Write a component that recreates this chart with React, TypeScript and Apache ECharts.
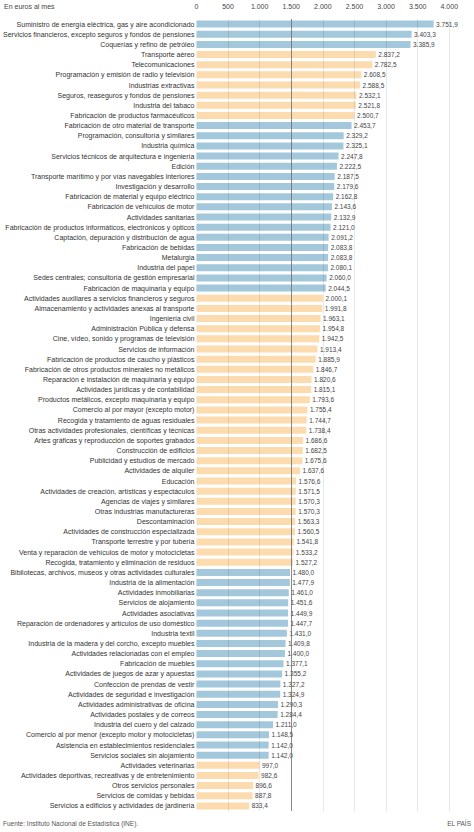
import React, { useEffect, useRef } from "react";
import * as echarts from "echarts";

const categories = [
  "Suministro de energía eléctrica, gas y aire acondicionado",
  "Servicios financieros, excepto seguros y fondos de pensiones",
  "Coquerías y refino de petróleo",
  "Transporte aéreo",
  "Telecomunicaciones",
  "Programación y emisión de radio y televisión",
  "Industrias extractivas",
  "Seguros, reaseguros y fondos de pensiones",
  "Industria del tabaco",
  "Fabricación de productos farmacéuticos",
  "Fabricación de otro material de transporte",
  "Programación, consultoría y similares",
  "Industria química",
  "Servicios técnicos de arquitectura e ingeniería",
  "Edición",
  "Transporte marítimo y por vías navegables interiores",
  "Investigación y desarrollo",
  "Fabricación de material y equipo eléctrico",
  "Fabricación de vehículos de motor",
  "Actividades sanitarias",
  "Fabricación de productos informáticos, electrónicos y ópticos",
  "Captación, depuración y distribución de agua",
  "Fabricación de bebidas",
  "Metalurgia",
  "Industria del papel",
  "Sedes centrales; consultoría de gestión empresarial",
  "Fabricación de maquinaria y equipo",
  "Actividades auxiliares a servicios financieros y seguros",
  "Almacenamiento y actividades anexas al transporte",
  "Ingeniería civil",
  "Administración Pública y defensa",
  "Cine, vídeo, sonido y programas de televisión",
  "Servicios de información",
  "Fabricación de productos de caucho y plásticos",
  "Fabricación de otros productos minerales no metálicos",
  "Reparación e instalación de maquinaria y equipo",
  "Actividades jurídicas y de contabilidad",
  "Productos metálicos, excepto maquinaria y equipo",
  "Comercio al por mayor (excepto motor)",
  "Recogida y tratamiento de aguas residuales",
  "Otras actividades profesionales, científicas y técnicas",
  "Artes gráficas y reproducción de soportes grabados",
  "Construcción de edificios",
  "Publicidad y estudios de mercado",
  "Actividades de alquiler",
  "Educación",
  "Actividades de creación, artísticas y espectáculos",
  "Agencias de viajes y similares",
  "Otras industrias manufactureras",
  "Descontaminación",
  "Actividades de construcción especializada",
  "Transporte terrestre y por tubería",
  "Venta y reparación de vehículos de motor y motocicletas",
  "Recogida, tratamiento y eliminación de residuos",
  "Bibliotecas, archivos, museos y otras actividades culturales",
  "Industria de la alimentación",
  "Actividades inmobiliarias",
  "Servicios de alojamiento",
  "Actividades asociativas",
  "Reparación de ordenadores y artículos de uso doméstico",
  "Industria textil",
  "Industria de la madera y del corcho, excepto muebles",
  "Actividades relacionadas con el empleo",
  "Fabricación de muebles",
  "Actividades de juegos de azar y apuestas",
  "Confección de prendas de vestir",
  "Actividades de seguridad e investigación",
  "Actividades administrativas de oficina",
  "Actividades postales y de correos",
  "Industria del cuero y del calzado",
  "Comercio al por menor (excepto motor y motocicletas)",
  "Asistencia en establecimientos residenciales",
  "Servicios sociales sin alojamiento",
  "Actividades veterinarias",
  "Actividades deportivas, recreativas y de entretenimiento",
  "Otros servicios personales",
  "Servicios de comidas y bebidas",
  "Servicios a edificios y actividades de jardinería",
];

const values = [
  3751.9, 3403.3, 3385.9, 2837.2, 2782.5, 2608.5, 2588.5, 2532.1, 2521.8, 2500.7,
  2453.7, 2329.2, 2325.1, 2247.8, 2222.5, 2187.5, 2179.6, 2162.8, 2143.6, 2132.9,
  2121.0, 2091.2, 2083.8, 2083.8, 2080.1, 2060.0, 2044.5, 2000.1, 1991.8, 1963.1,
  1954.8, 1942.5, 1913.4, 1885.9, 1846.7, 1820.6, 1815.1, 1793.6, 1755.4, 1744.7,
  1738.4, 1686.6, 1682.5, 1675.6, 1637.6, 1576.6, 1571.5, 1570.3, 1570.3, 1563.3,
  1560.5, 1541.8, 1533.2, 1527.2, 1480.0, 1477.9, 1461.0, 1451.6, 1449.9, 1447.7,
  1431.0, 1409.8, 1400.0, 1377.1, 1355.2, 1327.2, 1324.9, 1290.3, 1284.4, 1211.0,
  1148.5, 1142.0, 1142.0, 997.0, 982.6, 896.6, 887.8, 833.4,
];

// group of each bar: "A" = blue, "B" = orange
const groups = [
  "A", "A", "A", "B", "B", "B", "B", "B", "B", "B",
  "A", "A", "A", "A", "A", "A", "A", "A", "A", "A",
  "A", "A", "A", "A", "A", "A", "A", "B", "B", "B",
  "B", "B", "B", "B", "B", "B", "B", "B", "B", "B",
  "B", "B", "B", "B", "B", "B", "B", "B", "B", "B",
  "B", "B", "B", "B", "A", "A", "A", "A", "A", "A",
  "A", "A", "A", "A", "A", "A", "A", "A", "A", "A",
  "A", "A", "A", "B", "B", "B", "B", "B",
];

const xTicks = [0, 500, 1000, 1500, 2000, 2500, 3000, 3500, 4000];
const referenceLine = 1500;

const title = "En euros al mes";
const source = "Fuente: Instituto Nacional de Estadística (INE).";
const brand = "EL PAÍS";

const COLORS: Record<string, string> = { A: "#a3c7db", B: "#fcdcae" };
const FONT = "'Liberation Sans', Arial, sans-serif";

function fmt(v: number, decimals: number): string {
  const s = v.toFixed(decimals);
  const [int, dec] = s.split(".");
  const withSep = int.replace(/\B(?=(\d{3})+(?!\d))/g, ".");
  return dec !== undefined ? withSep + "," + dec : withSep;
}

export default function App() {
  const ref = useRef<HTMLDivElement>(null);
  useEffect(() => {
    if (!ref.current) return;
    const chart = echarts.init(ref.current, null, { renderer: "svg" });
    const gridLines = xTicks.filter((t) => t !== 0 && t !== referenceLine);
    chart.setOption({
      animation: false,
      backgroundColor: "#ffffff",
      textStyle: { fontFamily: FONT },
      grid: { left: 194.3, right: 24.7, top: 19, bottom: 21, containLabel: false },
      xAxis: {
        type: "value",
        position: "top",
        min: 0,
        max: 4000,
        interval: 500,
        axisLine: { show: false },
        axisTick: { show: false },
        splitLine: { show: false },
        axisLabel: {
          margin: 9,
          fontSize: 7,
          color: "#444",
          fontFamily: FONT,
          formatter: (v: number) => fmt(v, 0),
        },
      },
      yAxis: {
        type: "category",
        data: categories,
        inverse: true,
        axisLine: { show: false },
        axisTick: { show: false },
        axisLabel: {
          margin: 2,
          fontSize: 7,
          color: "#333",
          fontFamily: FONT,
          interval: 0,
        },
      },
      series: [
        {
          type: "bar",
          data: values.map((v, i) => ({ value: v, itemStyle: { color: COLORS[groups[i]] } })),
          barWidth: 7,
          label: {
            show: true,
            position: "right",
            distance: 2.5,
            fontSize: 6.5,
            color: "#444",
            fontFamily: FONT,
            formatter: (p: any) => fmt(p.value, 1),
          },
          markLine: {
            silent: true,
            symbol: "none",
            label: { show: false },
            z: 5,
            data: [
              ...gridLines.map((t) => ({
                xAxis: t,
                lineStyle: { color: "rgba(0,0,0,0.09)", width: 1, type: "solid" },
              })),
              {
                xAxis: referenceLine,
                lineStyle: { color: "#6b6b6b", width: 0.8, type: "solid" },
              },
            ],
          },
        },
      ],
      graphic: [
        {
          type: "text",
          x: 4,
          y: 6,
          style: { text: title, fontSize: 7, fill: "#444", font: `7px ${FONT}`, textVerticalAlign: "middle" },
        },
        {
          type: "text",
          x: 3,
          y: 823,
          style: { text: source, fontSize: 6.5, fill: "#555", font: `6.5px ${FONT}`, textVerticalAlign: "middle" },
        },
        {
          type: "text",
          x: 471,
          y: 823,
          style: { text: brand, fontSize: 6.5, fill: "#555", font: `6.5px ${FONT}`, textAlign: "right", textVerticalAlign: "middle" },
        },
      ],
    });
    return () => chart.dispose();
  }, []);
  return (
    <div
      ref={ref}
      style={{ position: "absolute", left: 0, top: 0, width: 474, height: 832 }}
    />
  );
}
